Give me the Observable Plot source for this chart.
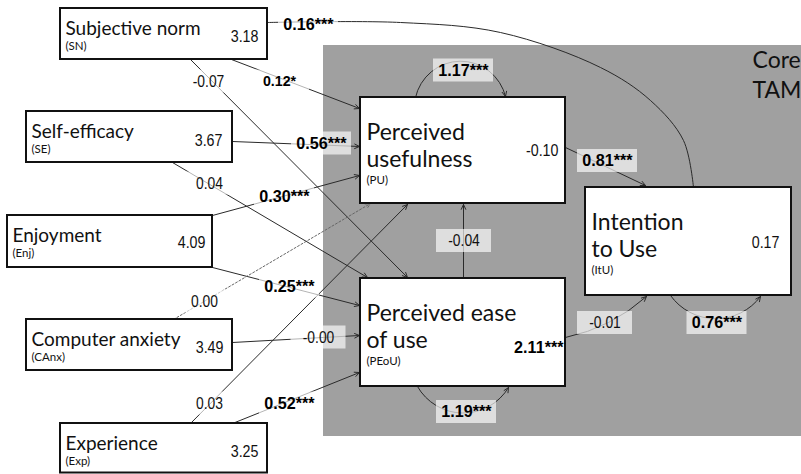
<!DOCTYPE html>
<html><head><meta charset="utf-8">
<script src="https://cdn.jsdelivr.net/npm/d3@7"></script>
<script src="https://cdn.jsdelivr.net/npm/@observablehq/plot@0.6"></script>
<style>
html,body{margin:0;padding:0;background:#fff;}
#chart svg{display:block;}
</style></head><body><div id="chart"></div>
<script>
// ---------- data ----------
const constructs = ["Subjective norm","Self-efficacy","Enjoyment","Computer anxiety","Experience","Perceived\nusefulness","Perceived ease\nof use","Intention\nto Use"];
const abbreviations = ["SN","SE","Enj","CAnx","Exp","PU","PEoU","ItU"];
const constructValues = ["3.18","3.67","4.09","3.49","3.25","-0.10","2.11","0.17"];
const constructStars = ["","","","","","","***",""];
const pathFrom = ["SN","SN","SN","SE","SE","Enj","Enj","CAnx","CAnx","Exp","Exp","PEoU","PU","PEoU","PU","PEoU","ItU"];
const pathTo   = ["ItU","PU","PEoU","PU","PEoU","PU","PEoU","PU","PEoU","PU","PEoU","PU","ItU","ItU","PU","PEoU","ItU"];
const pathEstimates = ["0.16","0.12","-0.07","0.56","0.04","0.30","0.25","0.00","-0.00","0.03","0.52","-0.04","0.81","-0.01","1.17","1.19","0.76"];
const pathStars = ["***","*","","***","","***","***","","","","***","","***","","***","***","***"];
const groupLabel = ["Core","TAM"];

// ---------- layout (diagram units) ----------
const groupLayout = {x1:323, x2:812, y1:45, y2:436, tx:752, ty:[67,97]};
const nodeLayout = {
  SN:   {x1:60, y1:8,   x2:267, y2:59,  big:false, vx:258, vy:41},
  SE:   {x1:26, y1:111, x2:232, y2:162, big:false, vx:222, vy:145},
  Enj:  {x1:7,  y1:215, x2:212, y2:267, big:false, vx:205, vy:247},
  CAnx: {x1:26, y1:319, x2:232, y2:370, big:false, vx:223, vy:352},
  Exp:  {x1:60, y1:423, x2:267, y2:472.5, big:false, vx:258, vy:456},
  PU:   {x1:360, y1:97,  x2:565, y2:203, big:true, vx:558, vy:155},
  PEoU: {x1:360, y1:278, x2:565, y2:386, big:true, vx:563, vy:352},
  ItU:  {x1:585, y1:187, x2:791, y2:295, big:true, vx:779, vy:247}
};
const pathLayout = [
  {curve:[[267,22],[400,22],[500,32],[600,67],[650,100],[683,140],[693,187]], lx:308, ly:24},
  {x1:231, y1:59,  x2:359, y2:108, lx:279, ly:81, small:true},
  {x1:190, y1:59,  x2:407, y2:277, lx:208, ly:81},
  {x1:232, y1:141, x2:359, y2:146, lx:321, ly:143},
  {x1:172, y1:162, x2:367, y2:277, lx:209, ly:183},
  {x1:212, y1:215, x2:359, y2:175, lx:284, ly:196},
  {x1:212, y1:267, x2:359, y2:305, lx:289, ly:286},
  {x1:173, y1:319, x2:370, y2:203, lx:204, ly:301, dashed:true},
  {x1:232, y1:342, x2:359, y2:335, lx:318, ly:337},
  {x1:190, y1:423, x2:407, y2:204, lx:209, ly:403},
  {x1:232, y1:423, x2:359, y2:372, lx:289, ly:403},
  {x1:463, y1:278, x2:463, y2:204, lx:463.5, ly:240.5},
  {x1:565, y1:147, x2:645, y2:185, lx:607, ly:160.5},
  {x1:565, y1:337, x2:646, y2:296, bend:-15, lx:604.5, ly:322.5},
  {x1:415, y1:97,  x2:505, y2:96,  bend:77,  lx:463, ly:70},
  {x1:417, y1:386, x2:508, y2:387, bend:-60, lx:466, ly:411.5},
  {x1:670, y1:295, x2:760, y2:296, bend:-54, lx:716.5, ly:322.5}
];

// ---------- build ----------
const nodes = abbreviations.map((id, i) => ({id, name: constructs[i], value: constructValues[i], stars: constructStars[i], ...nodeLayout[id]}));
const paths = pathFrom.map((f, i) => ({from: f, to: pathTo[i], label: pathEstimates[i] + pathStars[i], sig: pathStars[i] !== "", ...pathLayout[i]}));
const straight = paths.filter(p => !p.curve);
const curved = paths.filter(p => p.curve);
const curvePts = curved.flatMap((p, k) => p.curve.map(([x, y]) => ({k, x, y})));

const titleLines = nodes.flatMap(n => n.name.split("\n").map((t, j) => ({t, big: n.big, x: n.x1 + (n.big ? 6 : 5), y: n.y1 + (n.big ? 42 + 27 * j : 26)})));
const abbrs = nodes.map(n => ({t: `(${n.id})`, x: n.x1 + (n.big ? 6 : 5), y: n.y1 + (n.big ? 86 : 41)}));
const vals = nodes.map(n => ({t: n.value + n.stars, bold: n.stars !== "", x: n.vx, y: n.vy}));
const groupText = groupLabel.map((t, i) => ({t, x: groupLayout.tx, y: groupLayout.ty[i]}));

const NARROW = "'Liberation Sans Narrow', 'Arial Narrow', 'Liberation Sans', sans-serif";
const BOLD = "'Liberation Sans', Arial, sans-serif";
const TITLE = "Lato, 'Open Sans', sans-serif";
const LINE = "#2a2a2a";

const marks = [
  Plot.rect([groupLayout], {x1: "x1", x2: "x2", y1: "y1", y2: "y2", fill: "#a0a0a0"}),
  Plot.text(groupText, {x: "x", y: "y", text: "t", textAnchor: "start", lineAnchor: "bottom", fontSize: 23, fontFamily: TITLE, fill: "#111"}),
  ...straight.map(p => Plot.arrow([p], {
    x1: "x1", y1: "y1", x2: "x2", y2: "y2", bend: p.bend || 0,
    stroke: p.dashed ? "#666" : LINE, strokeWidth: 1, headLength: 8, headAngle: 50,
    strokeDasharray: p.dashed ? "2,2" : null
  })),
  Plot.line(curvePts, {x: "x", y: "y", z: "k", curve: "catmull-rom", stroke: LINE, strokeWidth: 1, markerEnd: "arrow"}),
  Plot.rect(paths, {
    x1: d => d.lx - (d.sig ? 30 : 27.5), x2: d => d.lx + (d.sig ? 30 : 27.5),
    y1: d => d.ly - 11.5, y2: d => d.ly + 11.5, fill: "white", fillOpacity: 0.65
  }),
  Plot.rect(nodes, {x1: "x1", x2: "x2", y1: "y1", y2: "y2", fill: "white", stroke: "#111", strokeWidth: 2}),
  Plot.text(paths.filter(d => !d.sig), {x: "lx", y: "ly", text: "label", fontSize: 16.5, fontFamily: NARROW, fill: "#111", lineAnchor: "middle"}),
  Plot.text(paths.filter(d => d.sig && !d.small), {x: "lx", y: "ly", text: "label", fontSize: 17, fontWeight: "bold", fontFamily: BOLD, fill: "#000", lineAnchor: "middle"}),
  Plot.text(paths.filter(d => d.sig && d.small), {x: "lx", y: "ly", text: "label", fontSize: 15, fontWeight: "bold", fontFamily: BOLD, fill: "#000", lineAnchor: "middle"}),
  Plot.text(titleLines.filter(d => !d.big), {x: "x", y: "y", text: "t", textAnchor: "start", lineAnchor: "bottom", fontSize: 19, fontFamily: TITLE, fill: "#111"}),
  Plot.text(titleLines.filter(d => d.big), {x: "x", y: "y", text: "t", textAnchor: "start", lineAnchor: "bottom", fontSize: 23, fontFamily: TITLE, fill: "#111"}),
  Plot.text(abbrs, {x: "x", y: "y", text: "t", textAnchor: "start", lineAnchor: "bottom", fontSize: 11.5, fontFamily: TITLE, fill: "#111"}),
  Plot.text(vals.filter(d => !d.bold), {x: "x", y: "y", text: "t", textAnchor: "end", lineAnchor: "bottom", fontSize: 17, fontFamily: NARROW, fill: "#111"}),
  Plot.text(vals.filter(d => d.bold), {x: "x", y: "y", text: "t", textAnchor: "end", lineAnchor: "bottom", fontSize: 17, fontWeight: "bold", fontFamily: BOLD, fill: "#000"})
];

const chart = Plot.plot({
  width: 801, height: 474, margin: 0,
  x: {domain: [0, 801], range: [0, 801], axis: null},
  y: {domain: [0, 474], range: [0, 474], axis: null},
  style: {background: "white"},
  marks
});
// condense the numeric labels (no narrow face is installed)
chart.querySelectorAll("g").forEach(g => {
  const ff = g.getAttribute("font-family") || "";
  const k = ff.includes("Narrow") ? 0.84 : (ff.startsWith("'Liberation Sans'") ? 0.95 : 1);
  if (k === 1) return;
  g.querySelectorAll("text").forEach(t => {
    t.setAttribute("transform", (t.getAttribute("transform") || "") + ` scale(${k},1)`);
  });
});
document.getElementById("chart").appendChild(chart);
</script>
</body></html>
